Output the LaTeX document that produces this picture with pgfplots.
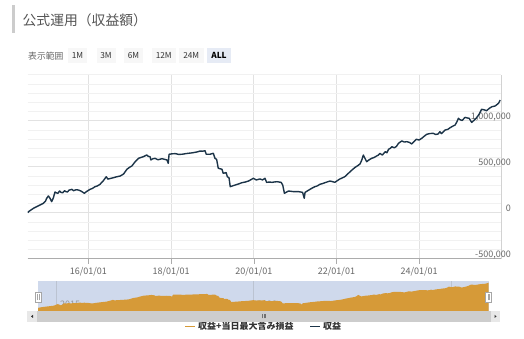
\documentclass[border=0pt]{standalone}
\usepackage{fontspec}
\setmainfont{Noto Sans CJK JP}
\usepackage{pgfplots}
\pgfplotsset{compat=1.18}
\usepackage{pgfplotstable}

\definecolor{linecol}{HTML}{1C3448}
\definecolor{navorange}{HTML}{D69A38}
\definecolor{navblue}{HTML}{CFD9EC}
\definecolor{gridmaj}{HTML}{E2E2E2}
\definecolor{gridmin}{HTML}{F1F1F1}
\definecolor{txtgray}{HTML}{666666}
\definecolor{txtdark}{HTML}{333333}
\definecolor{titlegray}{HTML}{555555}
\definecolor{btnbg}{HTML}{F7F7F7}
\definecolor{btnsel}{HTML}{E6EBF5}
\definecolor{scrollgray}{HTML}{CDCDCD}
\definecolor{scrollbtn}{HTML}{E8E8E8}

\pgfplotstableread{
year value
2014.53 0
2014.55 11000
2014.61 30000
2014.67 48000
2014.75 66000
2014.83 84000
2014.91 102000
2014.96 125000
2014.99 157000
2015.03 182000
2015.07 157000
2015.11 120000
2015.15 160000
2015.19 225000
2015.22 217000
2015.26 210000
2015.30 236000
2015.34 220000
2015.38 217000
2015.42 239000
2015.45 230000
2015.49 225000
2015.53 245000
2015.60 254000
2015.64 239000
2015.70 250000
2015.76 246000
2015.82 235000
2015.90 211000
2015.96 232000
2016.04 254000
2016.10 265000
2016.16 283000
2016.22 292000
2016.28 309000
2016.36 348000
2016.43 391000
2016.47 365000
2016.53 372000
2016.60 380000
2016.68 390000
2016.77 399000
2016.85 421000
2016.93 472000
2017.00 495000
2017.05 508000
2017.13 554000
2017.21 591000
2017.27 600000
2017.33 609000
2017.41 627000
2017.45 612000
2017.49 609000
2017.51 573000
2017.55 585000
2017.61 591000
2017.68 575000
2017.78 587000
2017.90 573000
2017.93 537000
2017.95 635000
2018.02 640000
2018.10 642000
2018.18 634000
2018.26 635000
2018.34 641000
2018.42 646000
2018.50 650000
2018.58 656000
2018.64 662000
2018.70 670000
2018.76 668000
2018.82 674000
2018.85 635000
2018.94 635000
2019.02 646000
2019.06 591000
2019.10 580000
2019.14 483000
2019.23 472000
2019.26 428000
2019.33 436000
2019.36 391000
2019.40 380000
2019.43 283000
2019.55 301000
2019.63 312000
2019.71 326000
2019.79 333000
2019.87 344000
2019.99 374000
2020.06 356000
2020.15 367000
2020.21 356000
2020.27 374000
2020.31 330000
2020.38 333000
2020.44 330000
2020.50 334000
2020.56 337000
2020.66 330000
2020.70 300000
2020.74 211000
2020.84 236000
2020.96 229000
2021.08 229000
2021.18 221000
2021.22 157000
2021.24 221000
2021.30 238000
2021.36 254000
2021.42 270000
2021.48 283000
2021.54 292000
2021.60 309000
2021.66 316000
2021.72 326000
2021.78 335000
2021.84 344000
2021.90 338000
2021.96 330000
2022.02 348000
2022.08 366000
2022.14 378000
2022.20 391000
2022.27 420000
2022.33 446000
2022.39 470000
2022.45 493000
2022.51 510000
2022.57 530000
2022.61 570000
2022.65 627000
2022.69 590000
2022.73 554000
2022.79 575000
2022.85 591000
2022.91 600000
2022.97 616000
2023.01 625000
2023.05 645000
2023.11 627000
2023.18 663000
2023.22 652000
2023.26 689000
2023.30 700000
2023.34 717000
2023.40 705000
2023.45 720000
2023.50 754000
2023.58 780000
2023.64 768000
2023.70 772000
2023.76 765000
2023.82 747000
2023.88 775000
2023.93 798000
2024.00 790000
2024.06 808000
2024.12 830000
2024.18 852000
2024.26 860000
2024.34 863000
2024.40 850000
2024.46 856000
2024.50 880000
2024.54 860000
2024.63 899000
2024.69 905000
2024.75 924000
2024.81 940000
2024.87 953000
2024.91 985000
2024.95 1026000
2024.99 1010000
2025.04 1003000
2025.11 1036000
2025.16 1030000
2025.21 1026000
2025.27 982000
2025.33 1005000
2025.39 1033000
2025.45 1070000
2025.51 1124000
2025.57 1118000
2025.63 1109000
2025.70 1135000
2025.76 1152000
2025.84 1160000
2025.92 1189000
2025.96 1225000
}\data

\begin{document}
\begin{tikzpicture}[x=1pt,y=1pt]
\useasboundingbox (0,0) rectangle (524,339);

% title
\fill[gray!40] (12,306) rectangle (14.5,334);
\node[anchor=west, inner sep=0pt, text=titlegray, font=\fontsize{13.8}{15}\selectfont] at (22.5,319) {公式運用（収益額）};

% range selector
\node[anchor=west, inner sep=0pt, text=txtgray, font=\fontsize{8.8}{10}\selectfont] at (28,283) {表示範囲};
\foreach \a/\b/\t in {68/87/1M, 96.5/115.5/3M, 124/143/6M, 151.5/176/12M, 179/203.5/24M}{
  \fill[btnbg] (\a,276) rectangle (\b,291);
  \node[text=txtdark, inner sep=0pt, font=\fontsize{8.3}{10}\selectfont] at ({(\a+\b)/2},283.3) {\t};
}
\fill[btnsel] (207,276) rectangle (231,291);
\node[text=black, inner sep=0pt, font=\fontsize{8.3}{10}\selectfont\bfseries] at (219,283.3) {ALL};

% main chart
\begin{axis}[
  at={(27.7pt,80.3pt)}, anchor=south west,
  scale only axis, width=473.3pt, height=184pt,
  xmin=2014.53, xmax=2025.98, ymin=-500000, ymax=1500000,
  axis x line*=bottom, axis y line*=right,
  x axis line style={draw=gray!65, line width=0.8pt, -},
  y axis line style={draw=gray!35, line width=0.8pt, -},
  xtick={2016,2018,2020,2022,2024},
  xticklabels={16/01/01,18/01/01,20/01/01,22/01/01,24/01/01},
  xtick align=outside,
  major tick length=5pt,
  xtick style={draw=gray!65, line width=0.6pt},
  ytick={-500000,0,500000,1000000},
  yticklabels={{-500,000},0,{500,000},{1,000,000}},
  minor ytick={-400000,-300000,-200000,-100000,100000,200000,300000,400000,600000,700000,800000,900000,1100000,1200000,1300000,1400000,1500000},
  ytick style={draw=none}, minor tick style={draw=none},
  xmajorgrids, ymajorgrids, yminorgrids,
  major x grid style={draw=gridmaj, line width=0.7pt},
  major y grid style={draw=gridmaj, line width=1.3pt},
  minor y grid style={draw=gridmin, line width=0.7pt},
  yticklabel style={anchor=east, xshift=10pt, yshift=4pt, inner sep=0pt, text=txtgray, font=\fontsize{9}{10}\selectfont},
  xticklabel style={text=txtgray, font=\fontsize{9}{10}\selectfont},
  scaled y ticks=false,
]
\addplot[linecol, line width=1.4pt, line join=round] table[x=year,y=value] {\data};
\end{axis}

% navigator
\begin{axis}[
  at={(27pt,28pt)}, anchor=south west,
  scale only axis, width=473pt, height=30pt,
  xmin=2014.251, xmax=2026.246, ymin=-150000, ymax=1300000,
  axis line style={draw=none},
  axis background/.style={fill=navblue},
  xtick={2015,2020,2025}, xticklabels={2015,2020,2025},
  ytick=\empty,
  tick style={draw=none},
  xmajorgrids,
  major x grid style={draw=navblue!75!gray, line width=0.5pt},
  xticklabel style={anchor=south west, text=gray, opacity=0.75, font=\fontsize{9}{10}\selectfont},
  clip=false,
  legend style={at={(axis description cs:0.501,-0.52)}, anchor=center, draw=none, fill=none,
    legend columns=2, font=\fontsize{9}{10}\selectfont\bfseries, text=txtdark,
    /tikz/every even column/.append style={column sep=14pt}},
  legend image code/.code={\draw[#1, line width=1.5pt] (0pt,0pt) -- (10pt,0pt);},
]
\fill[white] (axis cs:2014.251,-150000) rectangle (axis cs:2014.53,1300000);
\fill[white] (axis cs:2025.96,-150000) rectangle (axis cs:2026.246,1300000);
\addplot[fill=navorange, draw=none, forget plot] table[x=year,y=value] {\data} -- (axis cs:2025.96,-150000) -- (axis cs:2014.53,-150000) -- cycle;
\draw[fill=white, draw=gray!70, line width=0.5pt] ([xshift=-3pt]axis cs:2014.53,285000) rectangle ([xshift=3pt]axis cs:2014.53,768000);
\draw[gray!70, line width=0.4pt] ([xshift=-0.8pt]axis cs:2014.53,380000) -- ([xshift=-0.8pt]axis cs:2014.53,670000);
\draw[gray!70, line width=0.4pt] ([xshift=0.8pt]axis cs:2014.53,380000) -- ([xshift=0.8pt]axis cs:2014.53,670000);
\draw[fill=white, draw=gray!70, line width=0.5pt] ([xshift=-3pt]axis cs:2025.96,285000) rectangle ([xshift=3pt]axis cs:2025.96,768000);
\draw[gray!70, line width=0.4pt] ([xshift=-0.8pt]axis cs:2025.96,380000) -- ([xshift=-0.8pt]axis cs:2025.96,670000);
\draw[gray!70, line width=0.4pt] ([xshift=0.8pt]axis cs:2025.96,380000) -- ([xshift=0.8pt]axis cs:2025.96,670000);
\addlegendimage{navorange}
\addlegendentry{収益+当日最大含み損益}
\addlegendimage{linecol}
\addlegendentry{収益}
\end{axis}

% scrollbar
\fill[scrollgray] (27,17.3) rectangle (500,28);
\fill[scrollbtn] (27,17.3) rectangle (37,28);
\fill[scrollbtn] (490.5,17.3) rectangle (500,28);
\fill[txtdark] (31,22.6) -- (33,24.2) -- (33,21) -- cycle;
\fill[txtdark] (496.5,22.6) -- (494.5,24.2) -- (494.5,21) -- cycle;
\foreach \gx in {262.6,264,265.4}{\draw[txtdark!70, line width=0.4pt] (\gx,20.6) -- (\gx,24.6);}
\end{tikzpicture}
\end{document}
